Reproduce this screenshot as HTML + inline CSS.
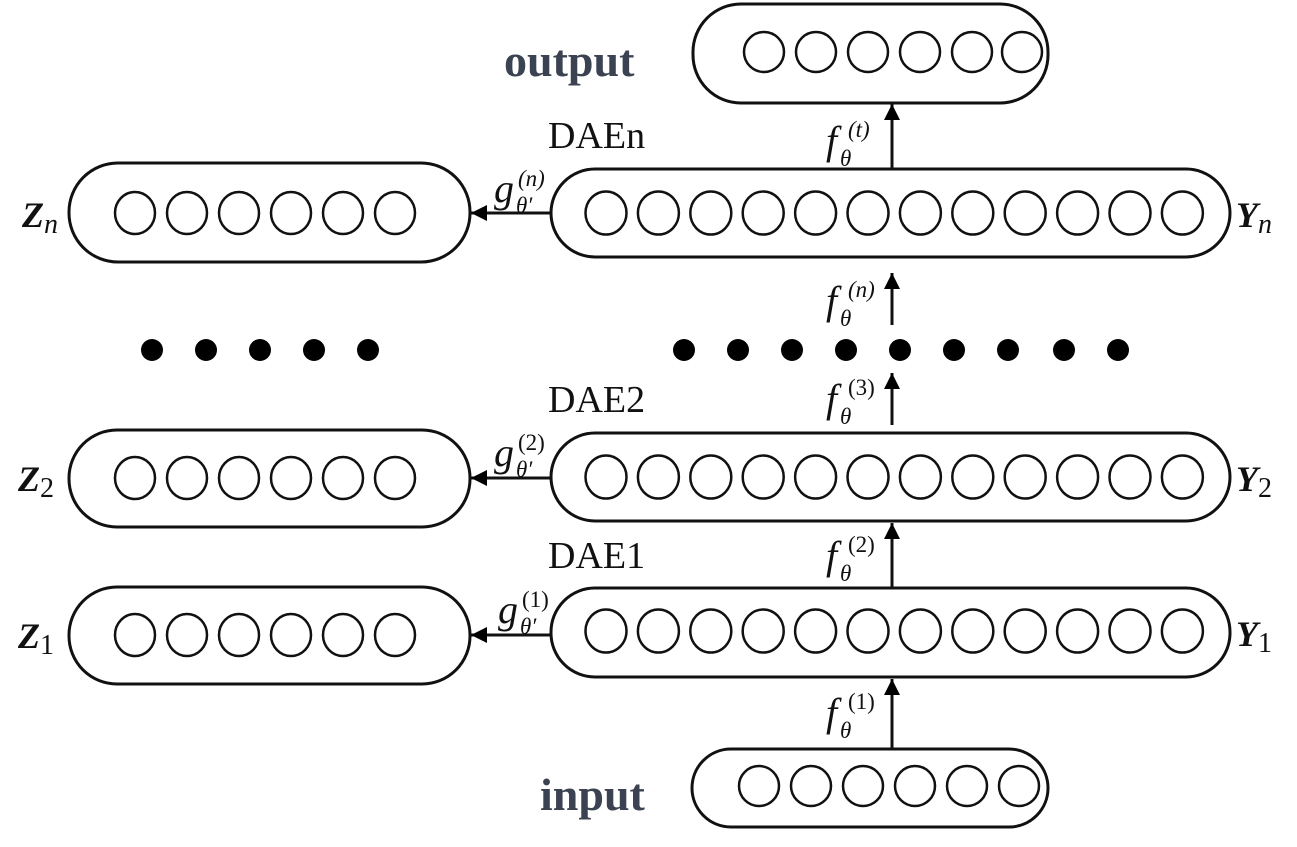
<!DOCTYPE html>
<html><head><meta charset="utf-8"><style>
html,body{margin:0;padding:0;background:#fff;}
svg{display:block;}
text{font-family:"Liberation Serif",serif;fill:#111;}
</style></head><body>
<svg width="1297" height="847" viewBox="0 0 1297 847" xmlns="http://www.w3.org/2000/svg">
<defs>
<marker id="ah" viewBox="0 0 10 10" refX="10" refY="5" markerWidth="16" markerHeight="16" markerUnits="userSpaceOnUse" orient="auto">
<path d="M0,0 L10,5 L0,10 z" fill="#000"/>
</marker>
</defs>
<g fill="none" stroke="#111" stroke-width="3">
<rect x="693" y="4" width="355" height="99" rx="48"/>
<rect x="692" y="749" width="356" height="78" rx="39"/>
<rect x="551" y="169" width="679" height="88" rx="44"/>
<rect x="551" y="433" width="679" height="88" rx="44"/>
<rect x="551" y="588" width="679" height="89" rx="44"/>
<rect x="69" y="163" width="401" height="99" rx="49"/>
<rect x="69" y="430" width="401" height="97" rx="48"/>
<rect x="69" y="587" width="401" height="97" rx="48"/>
</g>
<g fill="none" stroke="#111" stroke-width="2.5">
<circle cx="764" cy="52" r="20"/><circle cx="816" cy="52" r="20"/><circle cx="868" cy="52" r="20"/><circle cx="920" cy="52" r="20"/><circle cx="972" cy="52" r="20"/><circle cx="1022" cy="52" r="20"/>
<circle cx="759" cy="786" r="20"/><circle cx="811" cy="786" r="20"/><circle cx="863" cy="786" r="20"/><circle cx="915" cy="786" r="20"/><circle cx="967" cy="786" r="20"/><circle cx="1019" cy="786" r="20"/>
</g>
<g fill="none" stroke="#111" stroke-width="2.5">
<g transform="translate(0,213)">
<ellipse cx="606" rx="20.5" ry="21.5"/><ellipse cx="658.4" rx="20.5" ry="21.5"/><ellipse cx="710.8" rx="20.5" ry="21.5"/><ellipse cx="763.2" rx="20.5" ry="21.5"/><ellipse cx="815.6" rx="20.5" ry="21.5"/><ellipse cx="868" rx="20.5" ry="21.5"/><ellipse cx="920.4" rx="20.5" ry="21.5"/><ellipse cx="972.8" rx="20.5" ry="21.5"/><ellipse cx="1025.2" rx="20.5" ry="21.5"/><ellipse cx="1077.6" rx="20.5" ry="21.5"/><ellipse cx="1130" rx="20.5" ry="21.5"/><ellipse cx="1182.4" rx="20.5" ry="21.5"/>
</g>
<g transform="translate(0,477)">
<ellipse cx="606" rx="20.5" ry="21.5"/><ellipse cx="658.4" rx="20.5" ry="21.5"/><ellipse cx="710.8" rx="20.5" ry="21.5"/><ellipse cx="763.2" rx="20.5" ry="21.5"/><ellipse cx="815.6" rx="20.5" ry="21.5"/><ellipse cx="868" rx="20.5" ry="21.5"/><ellipse cx="920.4" rx="20.5" ry="21.5"/><ellipse cx="972.8" rx="20.5" ry="21.5"/><ellipse cx="1025.2" rx="20.5" ry="21.5"/><ellipse cx="1077.6" rx="20.5" ry="21.5"/><ellipse cx="1130" rx="20.5" ry="21.5"/><ellipse cx="1182.4" rx="20.5" ry="21.5"/>
</g>
<g transform="translate(0,631)">
<ellipse cx="606" rx="20.5" ry="21.5"/><ellipse cx="658.4" rx="20.5" ry="21.5"/><ellipse cx="710.8" rx="20.5" ry="21.5"/><ellipse cx="763.2" rx="20.5" ry="21.5"/><ellipse cx="815.6" rx="20.5" ry="21.5"/><ellipse cx="868" rx="20.5" ry="21.5"/><ellipse cx="920.4" rx="20.5" ry="21.5"/><ellipse cx="972.8" rx="20.5" ry="21.5"/><ellipse cx="1025.2" rx="20.5" ry="21.5"/><ellipse cx="1077.6" rx="20.5" ry="21.5"/><ellipse cx="1130" rx="20.5" ry="21.5"/><ellipse cx="1182.4" rx="20.5" ry="21.5"/>
</g>
<g transform="translate(0,213)">
<ellipse cx="135" rx="20" ry="21"/><ellipse cx="187" rx="20" ry="21"/><ellipse cx="239" rx="20" ry="21"/><ellipse cx="291" rx="20" ry="21"/><ellipse cx="343" rx="20" ry="21"/><ellipse cx="395" rx="20" ry="21"/>
</g>
<g transform="translate(0,478)">
<ellipse cx="135" rx="20" ry="21"/><ellipse cx="187" rx="20" ry="21"/><ellipse cx="239" rx="20" ry="21"/><ellipse cx="291" rx="20" ry="21"/><ellipse cx="343" rx="20" ry="21"/><ellipse cx="395" rx="20" ry="21"/>
</g>
<g transform="translate(0,635)">
<ellipse cx="135" rx="20" ry="21"/><ellipse cx="187" rx="20" ry="21"/><ellipse cx="239" rx="20" ry="21"/><ellipse cx="291" rx="20" ry="21"/><ellipse cx="343" rx="20" ry="21"/><ellipse cx="395" rx="20" ry="21"/>
</g>
</g>
<g stroke="#111" stroke-width="3" fill="none" marker-end="url(#ah)">
<line x1="892" y1="169" x2="892" y2="104"/>
<line x1="892" y1="325" x2="892" y2="273"/>
<line x1="892" y1="425" x2="892" y2="373"/>
<line x1="892" y1="588" x2="892" y2="523"/>
<line x1="892" y1="749" x2="892" y2="679"/>
<line x1="551" y1="213" x2="471" y2="213"/>
<line x1="551" y1="478" x2="471" y2="478"/>
<line x1="551" y1="635" x2="471" y2="635"/>
</g>
<g fill="#000">
<circle cx="152" cy="350" r="11"/><circle cx="206" cy="350" r="11"/><circle cx="260" cy="350" r="11"/><circle cx="314" cy="350" r="11"/><circle cx="368" cy="350" r="11"/>
<circle cx="684" cy="350" r="11"/><circle cx="738" cy="350" r="11"/><circle cx="792" cy="350" r="11"/><circle cx="846" cy="350" r="11"/><circle cx="900" cy="350" r="11"/><circle cx="954" cy="350" r="11"/><circle cx="1008" cy="350" r="11"/><circle cx="1064" cy="350" r="11"/><circle cx="1118" cy="350" r="11"/>
</g>
<text x="504" y="76" font-size="46" font-weight="bold" style="fill:#3b4352">output</text>
<text x="540" y="810" font-size="46" font-weight="bold" style="fill:#3b4352">input</text>
<text x="548" y="148" font-size="38">DAEn</text>
<text x="548" y="412" font-size="38">DAE2</text>
<text x="548" y="568" font-size="38">DAE1</text>
<text x="22" y="227" font-size="36" font-weight="bold" font-style="italic">Z<tspan font-size="28" font-weight="normal" dy="6">n</tspan></text>
<text x="18" y="491" font-size="36" font-weight="bold" font-style="italic">Z<tspan font-size="28" font-weight="normal" font-style="normal" dy="6">2</tspan></text>
<text x="18" y="648" font-size="36" font-weight="bold" font-style="italic">Z<tspan font-size="28" font-weight="normal" font-style="normal" dy="6">1</tspan></text>
<text x="1236" y="227" font-size="36" font-weight="bold" font-style="italic">Y<tspan font-size="28" font-weight="normal" dy="6">n</tspan></text>
<text x="1236" y="491" font-size="36" font-weight="bold" font-style="italic">Y<tspan font-size="28" font-weight="normal" font-style="normal" dy="6">2</tspan></text>
<text x="1236" y="646" font-size="36" font-weight="bold" font-style="italic">Y<tspan font-size="28" font-weight="normal" font-style="normal" dy="6">1</tspan></text>
<g font-size="40" font-style="italic">
<text x="494" y="202">g</text><text x="516" y="213" font-size="23">θ′</text><text x="518" y="186" font-size="23">(n)</text>
<text x="494" y="466">g</text><text x="516" y="477" font-size="23">θ′</text><text x="518" y="450" font-size="23" font-style="normal">(2)</text>
<text x="498" y="623">g</text><text x="520" y="634" font-size="23">θ′</text><text x="522" y="607" font-size="23" font-style="normal">(1)</text>
</g>
<g font-size="40" font-style="italic">
<text x="826" y="154">f</text><text x="840" y="166" font-size="23">θ</text><text x="848" y="137" font-size="23">(t)</text>
<text x="826" y="314">f</text><text x="840" y="326" font-size="23">θ</text><text x="848" y="297" font-size="23">(n)</text>
<text x="826" y="412">f</text><text x="840" y="424" font-size="23">θ</text><text x="848" y="395" font-size="23" font-style="normal">(3)</text>
<text x="826" y="569">f</text><text x="840" y="581" font-size="23">θ</text><text x="848" y="552" font-size="23" font-style="normal">(2)</text>
<text x="826" y="726">f</text><text x="840" y="738" font-size="23">θ</text><text x="848" y="709" font-size="23" font-style="normal">(1)</text>
</g>
</svg>
</body></html>
